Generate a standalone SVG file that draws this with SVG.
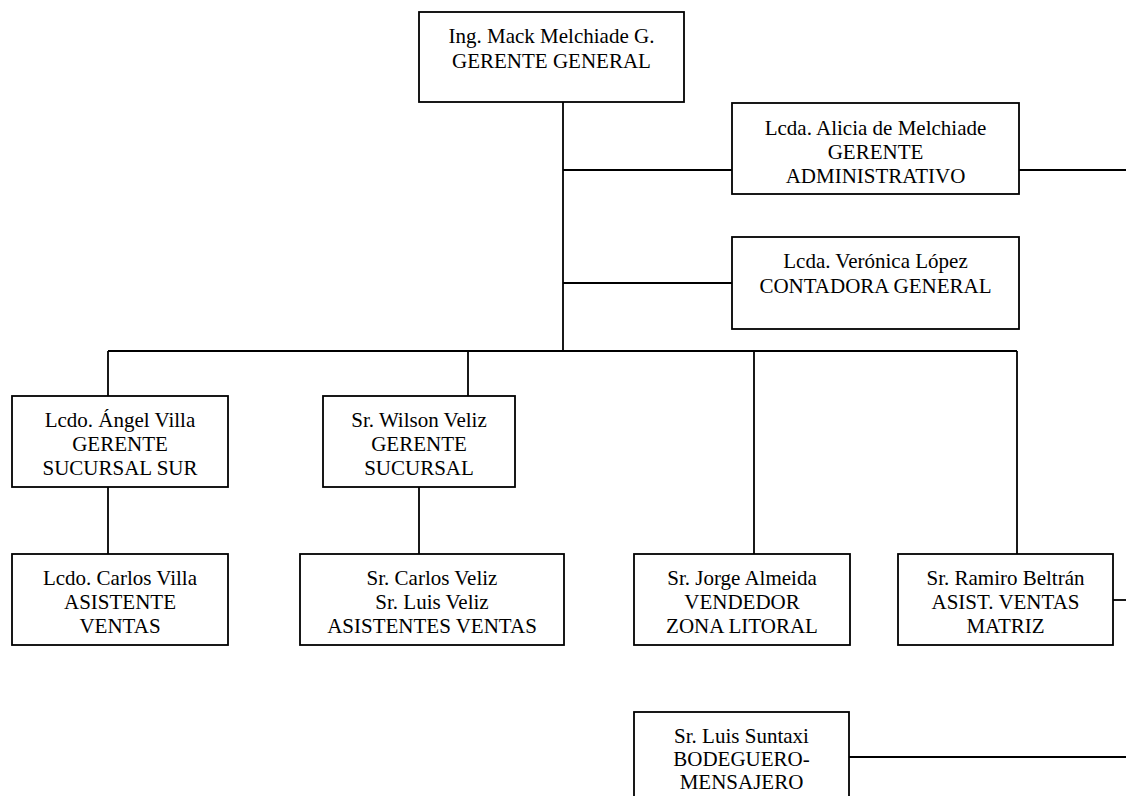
<svg xmlns="http://www.w3.org/2000/svg" width="1126" height="796" viewBox="0 0 1126 796">
  <style>
    .box { fill: #fff; stroke: #000; stroke-width: 1.8; }
    .link { fill: none; stroke: #000; stroke-width: 1.8; }
    text { font-family: "Liberation Serif", "Times New Roman", serif; font-size: 21px; fill: #000; text-anchor: middle; }
  </style>
  <rect width="1126" height="796" fill="#fff"/>

  <!-- connectors -->
  <g id="connectors">
    <path class="link" d="M563 102 V351"/>
    <path class="link" d="M563 170 H732"/>
    <path class="link" d="M1019 170 H1126"/>
    <path class="link" d="M563 283 H732"/>
    <path class="link" d="M108 351 H1017"/>
    <path class="link" d="M108 351 V396"/>
    <path class="link" d="M468 351 V396"/>
    <path class="link" d="M754 351 V554"/>
    <path class="link" d="M1017 351 V554"/>
    <path class="link" d="M108 487 V554"/>
    <path class="link" d="M419 487 V554"/>
    <path class="link" d="M1113 600 H1126"/>
    <path class="link" d="M849 757 H1126"/>
  </g>

  <g id="gerente-general">
    <rect class="box" x="419" y="12" width="265" height="90"/>
    <text x="551.5" y="43">Ing. Mack Melchiade G.</text>
    <text x="551.5" y="68">GERENTE GENERAL</text>
  </g>

  <g id="gerente-administrativo">
    <rect class="box" x="732" y="103" width="287" height="91"/>
    <text x="875.5" y="135">Lcda. Alicia de Melchiade</text>
    <text x="875.5" y="159">GERENTE</text>
    <text x="875.5" y="183">ADMINISTRATIVO</text>
  </g>

  <g id="contadora-general">
    <rect class="box" x="732" y="237" width="287" height="92"/>
    <text x="875.5" y="268">Lcda. Verónica López</text>
    <text x="875.5" y="293">CONTADORA GENERAL</text>
  </g>

  <g id="gerente-sucursal-sur">
    <rect class="box" x="12" y="396" width="216" height="91"/>
    <text x="120" y="427">Lcdo. Ángel Villa</text>
    <text x="120" y="451">GERENTE</text>
    <text x="120" y="475">SUCURSAL SUR</text>
  </g>

  <g id="gerente-sucursal">
    <rect class="box" x="323" y="396" width="192" height="91"/>
    <text x="419" y="427">Sr. Wilson Veliz</text>
    <text x="419" y="451">GERENTE</text>
    <text x="419" y="475">SUCURSAL</text>
  </g>

  <g id="asistente-ventas-sur">
    <rect class="box" x="12" y="554" width="216" height="91"/>
    <text x="120" y="585">Lcdo. Carlos Villa</text>
    <text x="120" y="609">ASISTENTE</text>
    <text x="120" y="633">VENTAS</text>
  </g>

  <g id="asistentes-ventas">
    <rect class="box" x="300" y="554" width="264" height="91"/>
    <text x="432" y="585">Sr. Carlos Veliz</text>
    <text x="432" y="609">Sr. Luis Veliz</text>
    <text x="432" y="633">ASISTENTES VENTAS</text>
  </g>

  <g id="vendedor-litoral">
    <rect class="box" x="634" y="554" width="216" height="91"/>
    <text x="742" y="585">Sr. Jorge Almeida</text>
    <text x="742" y="609">VENDEDOR</text>
    <text x="742" y="633">ZONA LITORAL</text>
  </g>

  <g id="asistente-matriz">
    <rect class="box" x="898" y="554" width="215" height="91"/>
    <text x="1005.5" y="585">Sr. Ramiro Beltrán</text>
    <text x="1005.5" y="609">ASIST. VENTAS</text>
    <text x="1005.5" y="633">MATRIZ</text>
  </g>

  <g id="bodeguero">
    <rect class="box" x="634" y="712" width="215" height="92"/>
    <text x="741.5" y="743">Sr. Luis Suntaxi</text>
    <text x="741.5" y="766">BODEGUERO-</text>
    <text x="741.5" y="789">MENSAJERO</text>
  </g>
</svg>
